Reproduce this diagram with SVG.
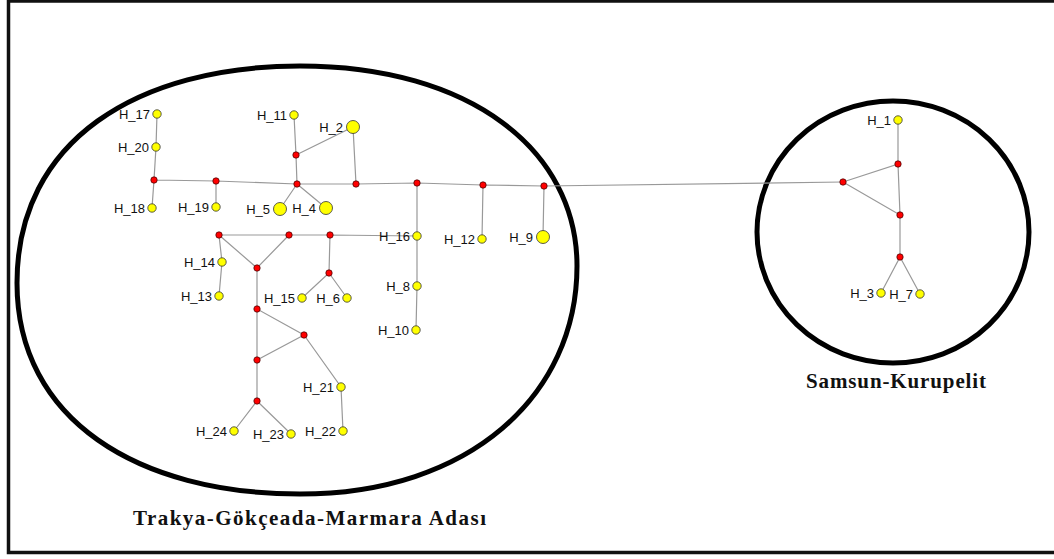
<svg xmlns="http://www.w3.org/2000/svg" width="1054" height="559" viewBox="0 0 1054 559">
<style>
.e{stroke:#999;stroke-width:1.2;fill:none}
.r{fill:#ff0000;stroke:#3a0000;stroke-width:0.7}
.y{fill:#ffff00;stroke:#333;stroke-width:0.8}
.l{font-family:"Liberation Sans",Arial,sans-serif;font-size:13px;fill:#111;text-anchor:end}
.t{font-family:"Liberation Serif","Times New Roman",serif;font-size:21px;font-weight:bold;fill:#111}
.b{fill:none;stroke:#000;stroke-width:5}
</style>
<rect x="0" y="0" width="1054" height="559" fill="#fff"/>
<rect x="8.5" y="1" width="1060" height="551.5" fill="none" stroke="#111" stroke-width="3.5"/>
<g id="groups">
<path class="b" d="M17,283C17,140 138,66 300,66C470,66 577,150 577,266C577,395 470,494 300,494C138,494 17,420 17,283Z"/>
<ellipse class="b" cx="893" cy="232" rx="136" ry="131"/>
</g>
<g id="connectors">
<path class="e" d="M157,114L156,147L154,180L152,208M154,180L216,181L297,184L356,184L417,183L483,185L544,186L843,182M216,181L216,207M297,184L296,155L294,115M296,155L353,127L356,184M297,184L280,209M297,184L326,208M483,185L482,239M544,186L543,237M417,183L417,236L417,286L416,330M417,236L330,235L289,235L219,235L257,268L289,235M219,235L222,262L219,296M330,235L329,273L302,298M329,273L347,298M257,268L257,309L304,335L257,360L257,309M304,335L341,387L343,431M257,360L257,401L234,431M257,401L291,434"/>
<path class="e" d="M843,182L898,164L898,120M843,182L900,215L898,164M900,215L900,257L881,293M900,257L920,294"/>
</g>
<g id="nodes">
<g id="n_a"><circle class="r" cx="154" cy="180" r="3.2"/></g>
<g id="n_b"><circle class="r" cx="216" cy="181" r="3.2"/></g>
<g id="n_c"><circle class="r" cx="296" cy="155" r="3.2"/></g>
<g id="n_d"><circle class="r" cx="297" cy="184" r="3.2"/></g>
<g id="n_e"><circle class="r" cx="356" cy="184" r="3.2"/></g>
<g id="n_f"><circle class="r" cx="417" cy="183" r="3.2"/></g>
<g id="n_g"><circle class="r" cx="483" cy="185" r="3.2"/></g>
<g id="n_h"><circle class="r" cx="544" cy="186" r="3.2"/></g>
<g id="n_i"><circle class="r" cx="219" cy="235" r="3.2"/></g>
<g id="n_j"><circle class="r" cx="289" cy="235" r="3.2"/></g>
<g id="n_k"><circle class="r" cx="330" cy="235" r="3.2"/></g>
<g id="n_l"><circle class="r" cx="257" cy="268" r="3.2"/></g>
<g id="n_m"><circle class="r" cx="329" cy="273" r="3.2"/></g>
<g id="n_n"><circle class="r" cx="257" cy="309" r="3.2"/></g>
<g id="n_o"><circle class="r" cx="304" cy="335" r="3.2"/></g>
<g id="n_p"><circle class="r" cx="257" cy="360" r="3.2"/></g>
<g id="n_q"><circle class="r" cx="257" cy="401" r="3.2"/></g>
<g id="n_r"><circle class="r" cx="898" cy="164" r="3.2"/></g>
<g id="n_s"><circle class="r" cx="843" cy="182" r="3.2"/></g>
<g id="n_t"><circle class="r" cx="900" cy="215" r="3.2"/></g>
<g id="n_u"><circle class="r" cx="900" cy="257" r="3.2"/></g>
<g id="H_17"><circle class="y" cx="157" cy="114" r="4.2"/><text class="l" x="150" y="119">H_17</text></g>
<g id="H_20"><circle class="y" cx="156" cy="147" r="4.2"/><text class="l" x="149" y="152">H_20</text></g>
<g id="H_18"><circle class="y" cx="152" cy="208" r="4.2"/><text class="l" x="145" y="213">H_18</text></g>
<g id="H_19"><circle class="y" cx="216" cy="207" r="4.2"/><text class="l" x="209" y="212">H_19</text></g>
<g id="H_11"><circle class="y" cx="294" cy="115" r="4.2"/><text class="l" x="287" y="120">H_11</text></g>
<g id="H_2"><circle class="y" cx="353" cy="127" r="6.5"/><text class="l" x="343" y="132">H_2</text></g>
<g id="H_5"><circle class="y" cx="280" cy="209" r="6.5"/><text class="l" x="270" y="214">H_5</text></g>
<g id="H_4"><circle class="y" cx="326" cy="208" r="6.5"/><text class="l" x="316" y="213">H_4</text></g>
<g id="H_16"><circle class="y" cx="417" cy="236" r="4.2"/><text class="l" x="410" y="241">H_16</text></g>
<g id="H_12"><circle class="y" cx="482" cy="239" r="4.2"/><text class="l" x="475" y="244">H_12</text></g>
<g id="H_9"><circle class="y" cx="543" cy="237" r="6.5"/><text class="l" x="533" y="242">H_9</text></g>
<g id="H_14"><circle class="y" cx="222" cy="262" r="4.2"/><text class="l" x="215" y="267">H_14</text></g>
<g id="H_13"><circle class="y" cx="219" cy="296" r="4.2"/><text class="l" x="212" y="301">H_13</text></g>
<g id="H_15"><circle class="y" cx="302" cy="298" r="4.2"/><text class="l" x="295" y="303">H_15</text></g>
<g id="H_6"><circle class="y" cx="347" cy="298" r="4.2"/><text class="l" x="340" y="303">H_6</text></g>
<g id="H_8"><circle class="y" cx="417" cy="286" r="4.2"/><text class="l" x="410" y="291">H_8</text></g>
<g id="H_10"><circle class="y" cx="416" cy="330" r="4.2"/><text class="l" x="409" y="335">H_10</text></g>
<g id="H_21"><circle class="y" cx="341" cy="387" r="4.2"/><text class="l" x="334" y="392">H_21</text></g>
<g id="H_22"><circle class="y" cx="343" cy="431" r="4.2"/><text class="l" x="336" y="436">H_22</text></g>
<g id="H_24"><circle class="y" cx="234" cy="431" r="4.2"/><text class="l" x="227" y="436">H_24</text></g>
<g id="H_23"><circle class="y" cx="291" cy="434" r="4.2"/><text class="l" x="284" y="439">H_23</text></g>
<g id="H_1"><circle class="y" cx="898" cy="120" r="4.2"/><text class="l" x="891" y="125">H_1</text></g>
<g id="H_3"><circle class="y" cx="881" cy="293" r="4.2"/><text class="l" x="874" y="298">H_3</text></g>
<g id="H_7"><circle class="y" cx="920" cy="294" r="4.2"/><text class="l" x="913" y="299">H_7</text></g>
</g>
<g id="titles">
<text class="t" x="133" y="525" textLength="353" lengthAdjust="spacing">Trakya-Gökçeada-Marmara Adası</text>
<text class="t" x="806" y="388" textLength="180" lengthAdjust="spacing">Samsun-Kurupelit</text>
</g>
</svg>
